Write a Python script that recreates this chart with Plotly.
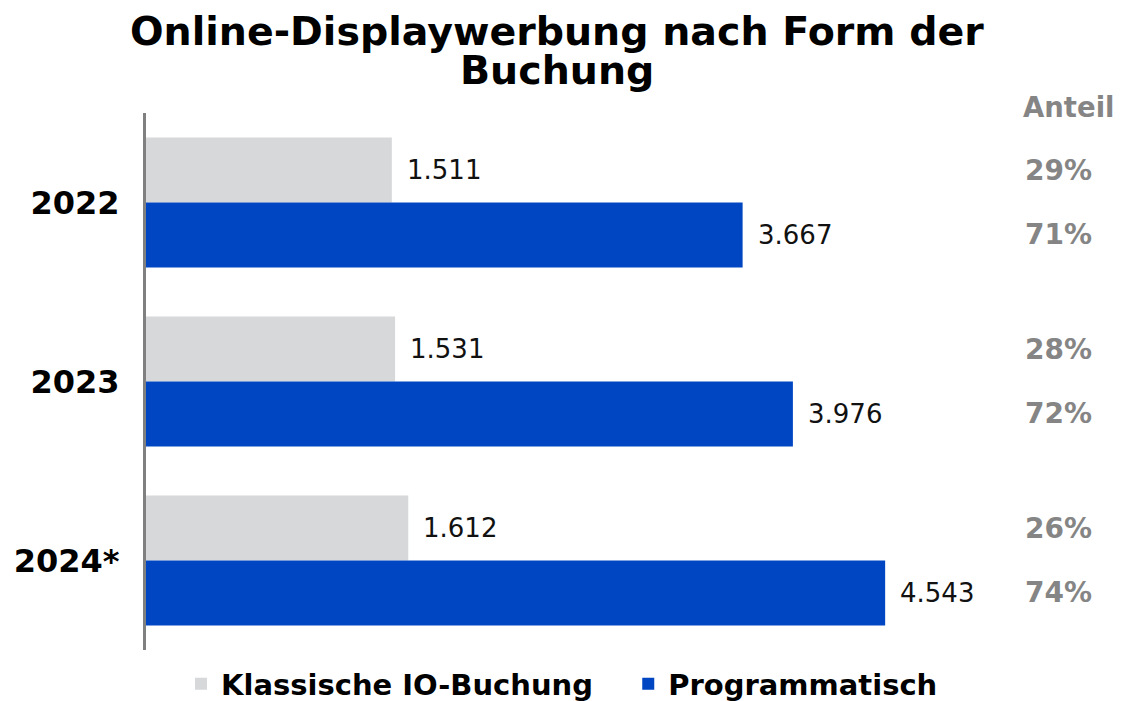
import plotly.graph_objects as go

years = ["2022", "2023", "2024*"]
klassisch = [1511, 1531, 1612]
programmatisch = [3667, 3976, 4543]
anteil_klassisch = ["29%", "28%", "26%"]
anteil_prog = ["71%", "72%", "74%"]
title_lines = ["Online-Displaywerbung nach Form der", "Buchung"]
series_names = ["Klassische IO-Buchung", "Programmatisch"]

GRAY = "#d7d8da"
BLUE = "#0046c3"
SHARE = "#858585"
FONT = "DejaVu Sans"

OFF = 8  # page body margin
W, H = 1140, 701
L, T = 146 - OFF, 113 - OFF
R = W - (1000 - OFF)
B = H - (650 - OFF)
PW, PH = W - L - R, H - T - B


def px(x):
    return (x - OFF - L) / PW


def py(y):
    return (H - B - (y - OFF)) / PH


fig = go.Figure()
fig.add_trace(go.Bar(y=years, x=klassisch, orientation="h",
                     name=series_names[0] + "\u00a0" * 3,
                     marker=dict(color=GRAY, line=dict(width=0))))
fig.add_trace(go.Bar(y=years, x=programmatisch, orientation="h", name=series_names[1],
                     marker=dict(color=BLUE, line=dict(width=0))))

ann = []
off = 0.18
for i, y in enumerate(years):
    for val, d in ((klassisch[i], -off), (programmatisch[i], off)):
        ann.append(dict(x=val, y=i + d, xref="x", yref="y", text=f"{val:,}".replace(",", "."),
                        showarrow=False, xanchor="left", xshift=13,
                        font=dict(family=FONT, size=26, color="#111111")))
    ann.append(dict(x=px(1023), y=i - off, xref="paper", yref="y", text=anteil_klassisch[i],
                    showarrow=False, xanchor="left",
                    font=dict(family=FONT, size=28, color=SHARE, weight="bold")))
    ann.append(dict(x=px(1023), y=i + off, xref="paper", yref="y", text=anteil_prog[i],
                    showarrow=False, xanchor="left",
                    font=dict(family=FONT, size=28, color=SHARE, weight="bold")))
ann.append(dict(x=px(1021), y=py(107), xref="paper", yref="paper",
                yanchor="middle", text="Anteil", showarrow=False, xanchor="left",
                font=dict(family=FONT, size=27.5, color=SHARE, weight="bold")))
for line, ypx in zip(title_lines, (31, 70)):
    ann.append(dict(x=px(557), y=py(ypx), xref="paper", yref="paper",
                    yanchor="middle", xanchor="center", text=line, showarrow=False,
                    font=dict(family=FONT, size=39.5, color="black", weight="bold")))

fig.update_layout(
    width=W, height=H,
    margin=dict(l=L, r=R, t=T, b=B, autoexpand=False),
    paper_bgcolor="white", plot_bgcolor="white",
    barmode="group", bargap=0.274, bargroupgap=0,
    xaxis=dict(range=[0, PW / 0.1627], showgrid=False, showticklabels=False, zeroline=False,
               showline=False, ticks=""),
    yaxis=dict(autorange="reversed", showgrid=False, showline=True, linecolor="#808080",
               linewidth=3, ticks="", ticklabelstandoff=17,
               tickfont=dict(family=FONT, size=32, color="black", weight="bold")),
    legend=dict(orientation="h", x=(562 - OFF) / W, xanchor="center", xref="container",
                y=(H - (684 - OFF)) / H, yanchor="middle", yref="container",
                font=dict(family=FONT, size=29, color="black", weight="bold"),
                itemwidth=30, traceorder="normal"),
    annotations=ann,
    showlegend=True,
)
fig.write_html("out.html")
